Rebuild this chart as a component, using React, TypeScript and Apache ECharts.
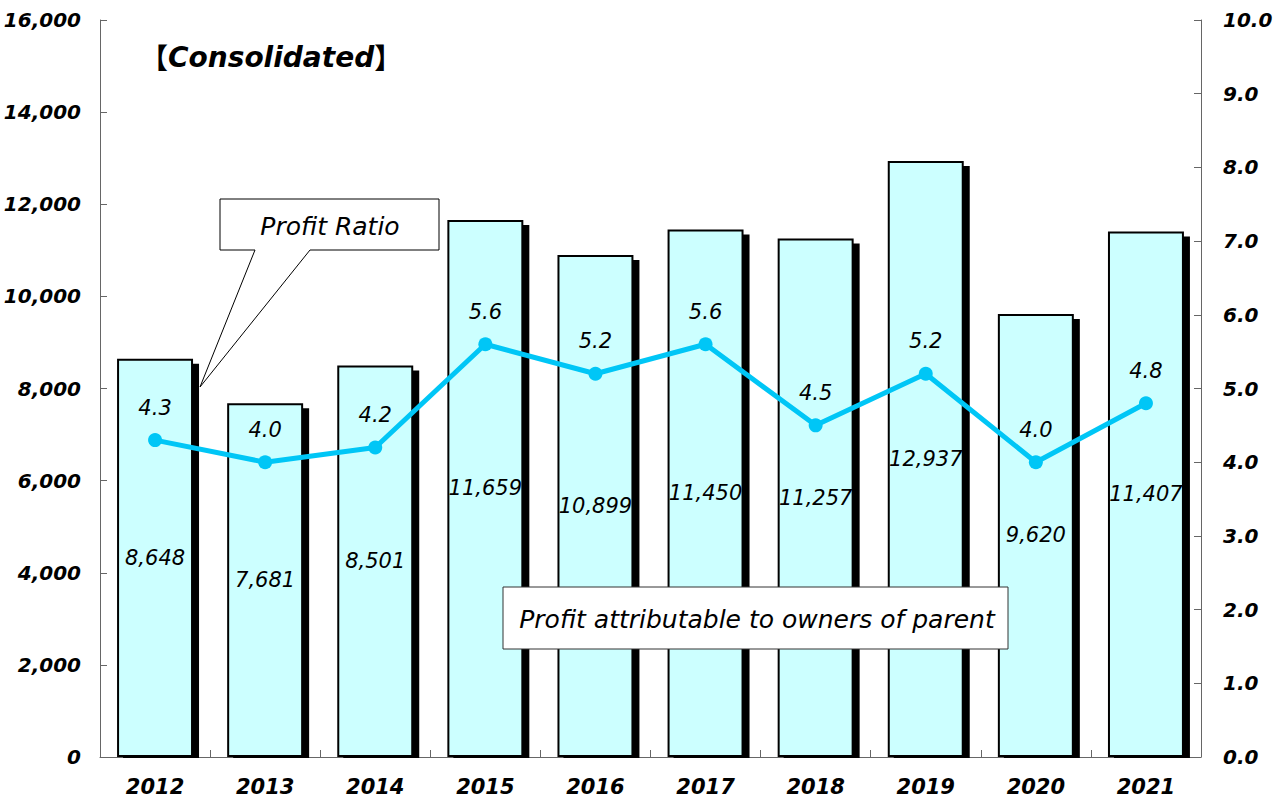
import React, { useEffect, useRef } from "react";
import * as echarts from "echarts";

const years = ["2012", "2013", "2014", "2015", "2016", "2017", "2018", "2019", "2020", "2021"];
const profit = [8648, 7681, 8501, 11659, 10899, 11450, 11257, 12937, 9620, 11407];
const ratio = [4.3, 4.0, 4.2, 5.6, 5.2, 5.6, 4.5, 5.2, 4.0, 4.8];

const leftMin = 0;
const leftMax = 16000;
const leftStep = 2000;
const rightMin = 0;
const rightMax = 10;
const rightStep = 1;

const FONT = "'DejaVu Sans', 'Noto Sans CJK JP', sans-serif";
const CJK = "'Noto Sans CJK JP', sans-serif";
const BAR_FILL = "#CCFFFF";
const LINE_COLOR = "#00C6F6";
const AXIS_COLOR = "#666666";

const fmtThousands = (v: number) => v.toLocaleString("en-US");

export default function App() {
  const ref = useRef<HTMLDivElement>(null);

  useEffect(() => {
    document.body.style.margin = "0";
    if (!ref.current) return;
    const chart = echarts.init(ref.current, null, { renderer: "svg" });

    const option: any = {
      animation: false,
      backgroundColor: "#ffffff",
      grid: { left: 100, right: 82, top: 20, bottom: 44, containLabel: false },
      xAxis: {
        type: "category",
        data: years,
        boundaryGap: true,
        axisLine: { show: true, lineStyle: { color: AXIS_COLOR, width: 1 } },
        axisTick: { show: true, inside: true, length: 7, lineStyle: { color: AXIS_COLOR } },
        axisLabel: {
          color: "#000",
          fontFamily: FONT,
          fontStyle: "italic",
          fontWeight: "bold",
          fontSize: 21,
          margin: 19,
        },
        splitLine: { show: false },
      },
      yAxis: [
        {
          type: "value",
          min: leftMin,
          max: leftMax,
          interval: leftStep,
          position: "left",
          axisLine: { show: true, lineStyle: { color: AXIS_COLOR, width: 1 } },
          axisTick: { show: true, inside: true, length: 7, lineStyle: { color: AXIS_COLOR } },
          axisLabel: {
            color: "#000",
            fontFamily: FONT,
            fontStyle: "italic",
            fontWeight: "bold",
            fontSize: 20,
            margin: 19,
            formatter: (v: number) => fmtThousands(v),
          },
          splitLine: { show: false },
        },
        {
          type: "value",
          min: rightMin,
          max: rightMax,
          interval: rightStep,
          position: "right",
          axisLine: { show: true, lineStyle: { color: AXIS_COLOR, width: 1 } },
          axisTick: { show: true, inside: true, length: 7, lineStyle: { color: AXIS_COLOR } },
          axisLabel: {
            color: "#000",
            fontFamily: FONT,
            fontStyle: "italic",
            fontWeight: "bold",
            fontSize: 20,
            margin: 22,
            formatter: (v: number) => v.toFixed(1),
          },
          splitLine: { show: false },
        },
      ],
      series: [
        {
          type: "custom",
          name: "shadow",
          yAxisIndex: 0,
          z: 1,
          data: profit.map((v, i) => [i, v]),
          renderItem: (params: any, api: any) => {
            const top = api.coord([api.value(0), api.value(1)]);
            const base = api.coord([api.value(0), 0]);
            const w = api.size([1, 0])[0] * 0.69;
            return {
              type: "rect",
              shape: {
                x: top[0] - w / 2 + 6,
                y: top[1] + 5,
                width: w,
                height: base[1] - top[1] - 4,
              },
              style: { fill: "#000000" },
            };
          },
          silent: true,
        },
        {
          type: "bar",
          name: "Profit attributable to owners of parent",
          yAxisIndex: 0,
          z: 2,
          barWidth: "69%",
          data: profit,
          itemStyle: { color: BAR_FILL, borderColor: "#000000", borderWidth: 2 },
          label: {
            show: true,
            position: "inside",
            color: "#000",
            fontFamily: FONT,
            fontStyle: "italic",
            fontSize: 21,
            formatter: (p: any) => fmtThousands(p.value),
          },
        },
        {
          type: "line",
          name: "Profit Ratio",
          yAxisIndex: 1,
          z: 5,
          data: ratio,
          symbol: "circle",
          symbolSize: 14,
          lineStyle: { color: LINE_COLOR, width: 5 },
          itemStyle: { color: LINE_COLOR },
          label: {
            show: true,
            position: "top",
            distance: 15,
            color: "#000",
            fontFamily: FONT,
            fontStyle: "italic",
            fontSize: 21,
            formatter: (p: any) => Number(p.value).toFixed(1),
          },
        },
      ],
      graphic: [
        {
          type: "text",
          x: 140,
          y: 57,
          z: 10,
          style: {
            text: "{b|【}{t|Consolidated}{b|】}",
            verticalAlign: "middle",
            rich: {
              b: { fontFamily: CJK, fontWeight: "bold", fontSize: 28, fill: "#000", color: "#000" },
              t: { fontFamily: FONT, fontStyle: "italic", fontWeight: "bold", fontSize: 28, fill: "#000", color: "#000" },
            },
          },
        },
        {
          type: "polygon",
          z: 10,
          shape: {
            points: [
              [220, 199],
              [439, 199],
              [439, 250],
              [310, 250],
              [200, 387],
              [255, 250],
              [220, 250],
            ],
          },
          style: { fill: "#ffffff", stroke: "#000000", lineWidth: 1 },
        },
        {
          type: "text",
          z: 11,
          x: 330,
          y: 226,
          style: {
            text: "Profit Ratio",
            fill: "#000",
            font: `italic 25px ${FONT}`,
            align: "center",
            verticalAlign: "middle",
          },
        },
        {
          type: "rect",
          z: 10,
          shape: { x: 503, y: 587, width: 505, height: 62 },
          style: { fill: "#ffffff", stroke: "#333333", lineWidth: 1 },
        },
        {
          type: "text",
          z: 11,
          x: 757,
          y: 619,
          style: {
            text: "Profit attributable to owners of parent",
            fill: "#000",
            font: `italic 25px ${FONT}`,
            align: "center",
            verticalAlign: "middle",
          },
        },
      ],
    };

    chart.setOption(option);
    return () => chart.dispose();
  }, []);

  return <div ref={ref} style={{ width: 1283, height: 801, position: "absolute", left: 0, top: 0 }} />;
}
